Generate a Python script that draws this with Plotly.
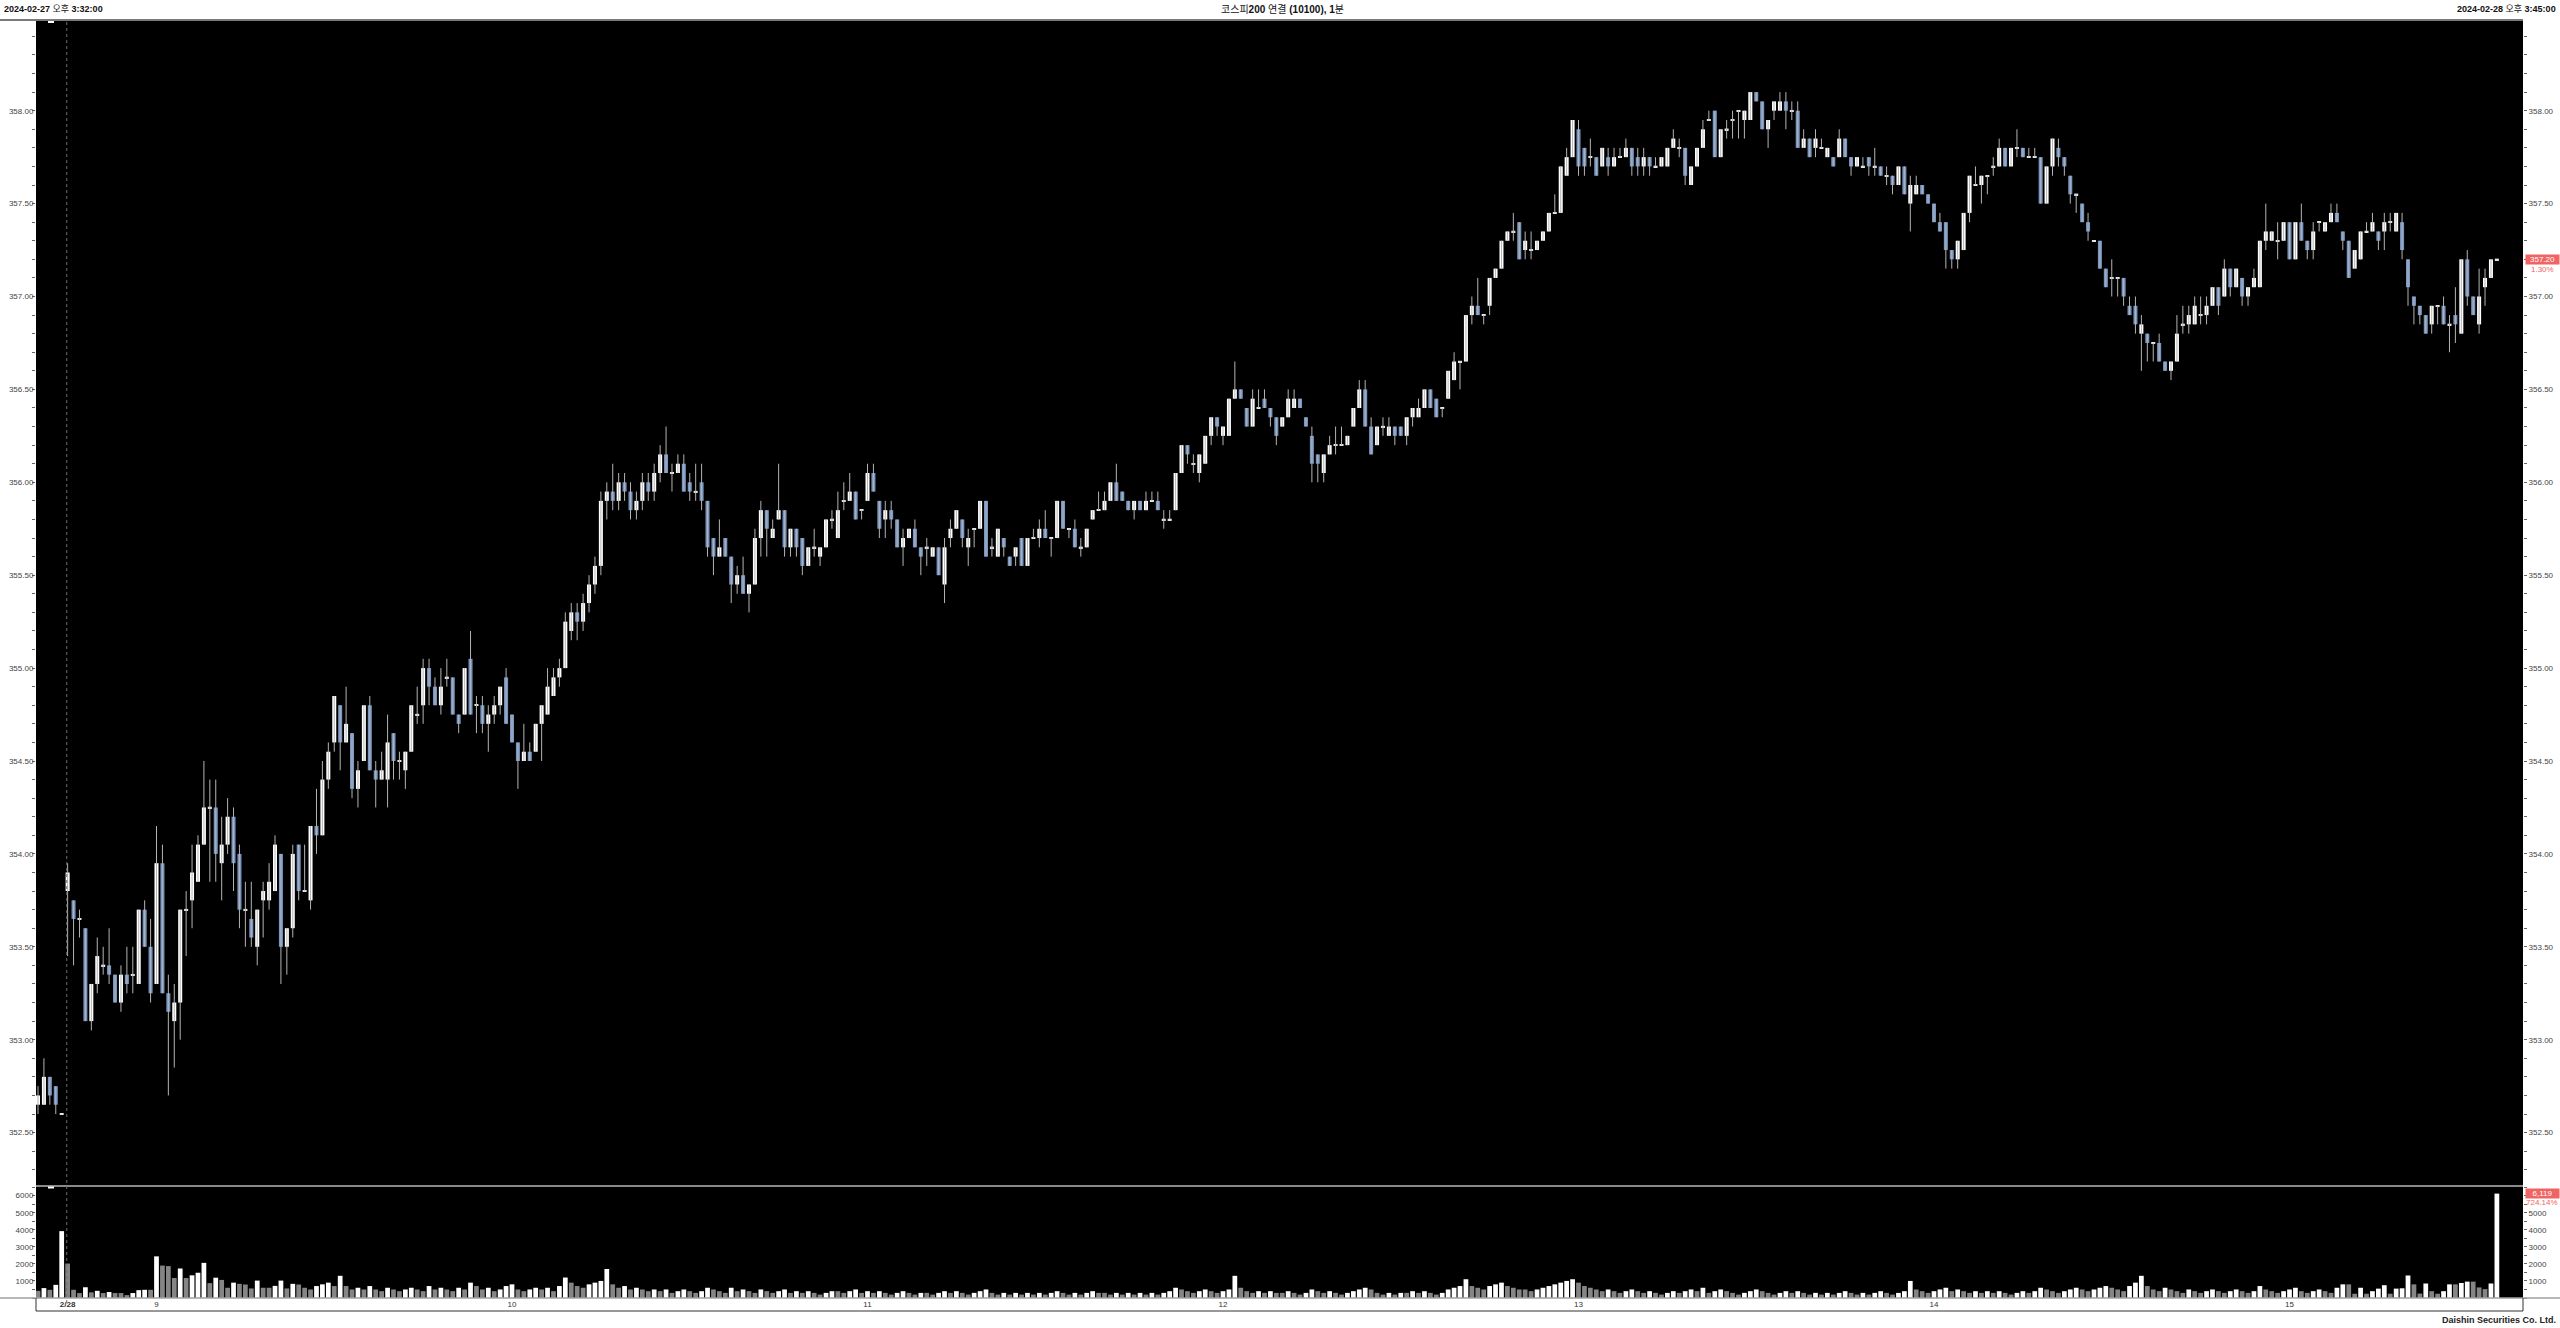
import plotly.graph_objects as go

# ---------------- data (1-minute candles, KOSPI200 continuous futures) ----------------
opens = [
    352.65, 352.65, 352.80, 352.75, 352.60, 353.80, 353.75, 353.65, 353.60, 353.10,
    353.30, 353.40, 353.40, 353.35, 353.20, 353.35, 353.35, 353.30, 353.70, 353.50,
    353.30, 353.95, 353.25, 353.10, 353.20, 353.70, 353.75, 353.85, 354.05, 354.25,
    354.25, 353.95, 354.05, 354.20, 354.00, 353.70, 353.65, 353.50, 353.75, 353.75,
    353.80, 354.00, 353.50, 353.60, 354.05, 353.80, 353.75, 354.15, 354.10, 354.40,
    354.60, 354.80, 354.60, 354.65, 354.35, 354.50, 354.80, 354.45, 354.40, 354.40,
    354.65, 354.50, 354.45, 354.55, 354.75, 354.80, 355.00, 354.90, 354.80, 354.95,
    354.95, 354.75, 354.75, 355.05, 354.80, 354.80, 354.70, 354.75, 354.80, 354.95,
    354.75, 354.60, 354.50, 354.55, 354.55, 354.70, 354.75, 354.85, 354.95, 355.00,
    355.20, 355.30, 355.25, 355.35, 355.45, 355.55, 355.90, 355.95, 355.90, 356.00,
    355.95, 355.85, 355.90, 356.00, 355.95, 356.05, 356.15, 356.05, 356.05, 356.10,
    356.00, 355.95, 356.00, 355.90, 355.70, 355.60, 355.70, 355.60, 355.45, 355.50,
    355.40, 355.45, 355.70, 355.85, 355.70, 355.80, 355.85, 355.65, 355.75, 355.70,
    355.55, 355.65, 355.60, 355.65, 355.80, 355.70, 355.90, 355.90, 355.95, 355.85,
    355.90, 356.05, 355.90, 355.80, 355.85, 355.80, 355.65, 355.70, 355.75, 355.65,
    355.65, 355.60, 355.65, 355.45, 355.70, 355.75, 355.80, 355.65, 355.75, 355.75,
    355.90, 355.65, 355.60, 355.70, 355.60, 355.60, 355.70, 355.55, 355.70, 355.70,
    355.75, 355.70, 355.70, 355.90, 355.75, 355.75, 355.65, 355.65, 355.80, 355.85,
    355.85, 355.90, 356.00, 355.95, 355.90, 355.85, 355.90, 355.85, 355.90, 355.90,
    355.80, 355.80, 355.85, 356.05, 356.20, 356.10, 356.05, 356.10, 356.25, 356.35,
    356.25, 356.25, 356.45, 356.50, 356.40, 356.30, 356.40, 356.45, 356.40, 356.35,
    356.30, 356.35, 356.40, 356.45, 356.35, 356.25, 356.15, 356.05, 356.15, 356.20,
    356.20, 356.20, 356.30, 356.40, 356.50, 356.30, 356.20, 356.30, 356.25, 356.30,
    356.30, 356.25, 356.35, 356.35, 356.40, 356.50, 356.45, 356.40, 356.45, 356.55,
    356.65, 356.65, 356.90, 356.95, 356.90, 356.95, 357.10, 357.15, 357.30, 357.35,
    357.40, 357.25, 357.25, 357.25, 357.30, 357.35, 357.45, 357.45, 357.65, 357.75,
    357.90, 357.80, 357.75, 357.75, 357.70, 357.75, 357.70, 357.75, 357.75, 357.80,
    357.75, 357.70, 357.75, 357.70, 357.70, 357.70, 357.80, 357.80, 357.80, 357.60,
    357.70, 357.80, 357.95, 358.00, 357.75, 357.90, 357.95, 358.00, 357.95, 357.95,
    358.10, 358.05, 357.90, 358.00, 358.00, 358.05, 358.00, 358.00, 357.80, 357.85,
    357.80, 357.80, 357.75, 357.75, 357.75, 357.85, 357.75, 357.70, 357.70, 357.75,
    357.70, 357.70, 357.65, 357.65, 357.60, 357.70, 357.50, 357.55, 357.60, 357.55,
    357.50, 357.40, 357.40, 357.25, 357.20, 357.25, 357.45, 357.60, 357.60, 357.65,
    357.70, 357.70, 357.80, 357.70, 357.80, 357.80, 357.75, 357.75, 357.75, 357.50,
    357.70, 357.80, 357.75, 357.65, 357.55, 357.50, 357.40, 357.30, 357.30, 357.15,
    357.10, 357.10, 357.10, 356.95, 356.95, 356.80, 356.80, 356.75, 356.75, 356.65,
    356.60, 356.65, 356.85, 356.85, 356.85, 356.90, 356.90, 356.95, 357.05, 357.00,
    357.15, 357.05, 357.10, 357.00, 357.05, 357.05, 357.30, 357.30, 357.30, 357.30,
    357.40, 357.20, 357.40, 357.30, 357.25, 357.40, 357.35, 357.40, 357.45, 357.35,
    357.30, 357.15, 357.20, 357.35, 357.35, 357.35, 357.35, 357.40, 357.35, 357.40,
    357.20, 357.00, 356.95, 356.90, 356.85, 356.95, 356.95, 356.85, 356.90, 356.80,
    357.20, 357.00, 356.85, 357.05, 357.10, 357.20,
]
highs = [
    352.75, 352.90, 352.80, 352.75, 352.60, 353.95, 353.75, 353.70, 353.60, 353.30,
    353.55, 353.50, 353.60, 353.35, 353.40, 353.50, 353.50, 353.70, 353.75, 353.65,
    354.15, 354.05, 353.35, 353.30, 353.70, 353.80, 354.05, 354.10, 354.50, 354.40,
    354.40, 354.20, 354.30, 354.25, 354.05, 353.85, 353.85, 353.70, 353.85, 353.95,
    354.10, 354.00, 353.60, 354.05, 354.05, 354.05, 354.15, 354.35, 354.50, 354.60,
    354.85, 354.80, 354.90, 354.65, 354.50, 354.80, 354.85, 354.50, 354.55, 354.75,
    354.65, 354.55, 354.55, 354.80, 354.90, 355.05, 355.05, 354.95, 355.00, 355.05,
    354.95, 354.75, 355.00, 355.20, 354.85, 354.85, 354.80, 354.85, 354.90, 355.00,
    354.75, 354.60, 354.70, 354.60, 354.70, 354.80, 355.00, 355.00, 355.05, 355.30,
    355.35, 355.35, 355.40, 355.50, 355.60, 355.95, 356.00, 356.10, 356.05, 356.05,
    356.00, 355.95, 356.05, 356.05, 356.10, 356.20, 356.30, 356.10, 356.15, 356.15,
    356.05, 356.10, 356.10, 355.90, 355.70, 355.80, 355.70, 355.60, 355.55, 355.60,
    355.45, 355.75, 355.90, 355.85, 355.80, 356.10, 355.85, 355.75, 355.75, 355.70,
    355.65, 355.75, 355.65, 355.80, 355.85, 355.95, 356.00, 356.05, 355.95, 355.85,
    356.10, 356.10, 355.90, 355.90, 355.90, 355.80, 355.75, 355.75, 355.80, 355.65,
    355.70, 355.65, 355.65, 355.70, 355.80, 355.85, 355.80, 355.75, 355.75, 355.90,
    355.90, 355.70, 355.75, 355.70, 355.60, 355.65, 355.70, 355.70, 355.75, 355.80,
    355.85, 355.70, 355.90, 355.90, 355.75, 355.80, 355.70, 355.75, 355.85, 355.95,
    355.95, 356.00, 356.10, 355.95, 355.90, 355.90, 355.90, 355.95, 355.95, 355.95,
    355.85, 355.85, 356.05, 356.20, 356.20, 356.15, 356.15, 356.25, 356.35, 356.35,
    356.30, 356.45, 356.65, 356.50, 356.40, 356.50, 356.50, 356.50, 356.40, 356.35,
    356.35, 356.50, 356.50, 356.45, 356.35, 356.30, 356.15, 356.15, 356.25, 356.30,
    356.30, 356.25, 356.40, 356.55, 356.55, 356.35, 356.30, 356.35, 356.35, 356.30,
    356.30, 356.35, 356.40, 356.45, 356.50, 356.50, 356.45, 356.40, 356.60, 356.70,
    356.65, 356.90, 357.00, 357.10, 356.90, 357.10, 357.15, 357.30, 357.35, 357.45,
    357.40, 357.35, 357.35, 357.30, 357.35, 357.45, 357.55, 357.70, 357.80, 357.95,
    357.95, 357.80, 357.85, 357.75, 357.80, 357.80, 357.80, 357.80, 357.85, 357.80,
    357.80, 357.80, 357.75, 357.75, 357.75, 357.80, 357.90, 357.85, 357.80, 357.70,
    357.80, 357.95, 358.00, 358.00, 357.90, 357.95, 358.00, 358.00, 358.00, 358.10,
    358.10, 358.05, 357.95, 358.05, 358.10, 358.10, 358.05, 358.05, 357.90, 357.85,
    357.90, 357.85, 357.80, 357.75, 357.90, 357.85, 357.75, 357.75, 357.75, 357.75,
    357.80, 357.70, 357.70, 357.65, 357.70, 357.70, 357.65, 357.65, 357.60, 357.55,
    357.50, 357.45, 357.40, 357.25, 357.30, 357.45, 357.65, 357.70, 357.65, 357.65,
    357.75, 357.85, 357.80, 357.80, 357.90, 357.80, 357.80, 357.80, 357.75, 357.70,
    357.85, 357.85, 357.75, 357.65, 357.55, 357.50, 357.45, 357.30, 357.30, 357.15,
    357.20, 357.10, 357.10, 357.00, 357.00, 356.90, 356.80, 356.75, 356.80, 356.65,
    356.65, 356.90, 356.95, 356.95, 357.00, 357.00, 357.00, 357.05, 357.05, 357.20,
    357.15, 357.15, 357.10, 357.05, 357.15, 357.30, 357.50, 357.35, 357.40, 357.40,
    357.40, 357.40, 357.50, 357.30, 357.40, 357.40, 357.40, 357.50, 357.50, 357.35,
    357.30, 357.25, 357.35, 357.40, 357.45, 357.35, 357.45, 357.45, 357.45, 357.45,
    357.20, 357.00, 356.95, 356.90, 356.95, 356.95, 357.00, 356.90, 357.05, 357.20,
    357.25, 357.00, 357.15, 357.15, 357.20, 357.20,
]
lows = [
    352.60, 352.65, 352.65, 352.60, 352.60, 353.45, 353.40, 353.55, 353.10, 353.05,
    353.25, 353.35, 353.30, 353.20, 353.15, 353.25, 353.25, 353.30, 353.50, 353.20,
    353.30, 353.25, 352.70, 352.85, 353.00, 353.45, 353.60, 353.85, 354.05, 353.85,
    353.85, 353.75, 354.00, 353.80, 353.60, 353.50, 353.50, 353.40, 353.55, 353.70,
    353.80, 353.30, 353.35, 353.55, 353.75, 353.80, 353.70, 354.00, 354.10, 354.35,
    354.55, 354.45, 354.60, 354.30, 354.25, 354.50, 354.45, 354.25, 354.40, 354.25,
    354.40, 354.40, 354.35, 354.55, 354.70, 354.70, 354.80, 354.80, 354.75, 354.90,
    354.75, 354.65, 354.75, 354.75, 354.65, 354.65, 354.55, 354.70, 354.75, 354.70,
    354.60, 354.35, 354.50, 354.50, 354.55, 354.50, 354.75, 354.85, 354.90, 355.00,
    355.15, 355.15, 355.20, 355.30, 355.40, 355.50, 355.80, 355.85, 355.85, 355.90,
    355.80, 355.80, 355.85, 355.90, 355.90, 356.00, 356.05, 355.95, 356.05, 355.95,
    355.90, 355.90, 355.85, 355.60, 355.50, 355.60, 355.60, 355.35, 355.40, 355.40,
    355.30, 355.45, 355.60, 355.60, 355.70, 355.80, 355.60, 355.60, 355.60, 355.50,
    355.55, 355.60, 355.55, 355.65, 355.75, 355.70, 355.85, 355.90, 355.80, 355.80,
    355.90, 355.95, 355.70, 355.70, 355.75, 355.65, 355.55, 355.70, 355.65, 355.50,
    355.55, 355.60, 355.50, 355.35, 355.65, 355.75, 355.65, 355.55, 355.65, 355.75,
    355.60, 355.60, 355.60, 355.60, 355.55, 355.55, 355.55, 355.55, 355.70, 355.65,
    355.70, 355.60, 355.70, 355.75, 355.70, 355.65, 355.60, 355.65, 355.80, 355.85,
    355.85, 355.90, 355.90, 355.90, 355.85, 355.80, 355.85, 355.85, 355.90, 355.85,
    355.75, 355.80, 355.85, 356.05, 356.10, 356.05, 356.00, 356.10, 356.20, 356.25,
    356.20, 356.25, 356.45, 356.45, 356.30, 356.30, 356.40, 356.40, 356.30, 356.20,
    356.30, 356.35, 356.40, 356.40, 356.30, 356.00, 356.00, 356.00, 356.15, 356.15,
    356.20, 356.20, 356.30, 356.40, 356.30, 356.15, 356.20, 356.25, 356.25, 356.20,
    356.25, 356.20, 356.30, 356.35, 356.40, 356.40, 356.35, 356.35, 356.45, 356.55,
    356.50, 356.65, 356.85, 356.90, 356.85, 356.90, 357.10, 357.15, 357.30, 357.30,
    357.20, 357.20, 357.20, 357.25, 357.30, 357.35, 357.45, 357.45, 357.65, 357.75,
    357.65, 357.65, 357.70, 357.65, 357.70, 357.65, 357.70, 357.75, 357.75, 357.65,
    357.65, 357.65, 357.65, 357.70, 357.70, 357.70, 357.80, 357.75, 357.60, 357.60,
    357.70, 357.80, 357.95, 357.75, 357.75, 357.85, 357.85, 357.85, 357.85, 357.95,
    358.05, 357.90, 357.80, 357.95, 358.00, 357.90, 357.95, 357.80, 357.80, 357.75,
    357.75, 357.80, 357.75, 357.70, 357.75, 357.75, 357.65, 357.70, 357.70, 357.65,
    357.65, 357.65, 357.60, 357.55, 357.60, 357.55, 357.35, 357.55, 357.55, 357.50,
    357.40, 357.35, 357.15, 357.15, 357.15, 357.25, 357.40, 357.60, 357.50, 357.55,
    357.65, 357.70, 357.70, 357.70, 357.75, 357.75, 357.75, 357.75, 357.50, 357.50,
    357.65, 357.70, 357.65, 357.50, 357.45, 357.40, 357.30, 357.30, 357.15, 357.05,
    357.00, 357.00, 356.95, 356.90, 356.80, 356.60, 356.65, 356.65, 356.65, 356.60,
    356.55, 356.65, 356.80, 356.80, 356.85, 356.85, 356.85, 356.95, 356.90, 357.00,
    357.00, 357.05, 356.95, 356.95, 357.05, 357.05, 357.25, 357.30, 357.20, 357.30,
    357.20, 357.20, 357.30, 357.20, 357.20, 357.35, 357.35, 357.40, 357.40, 357.25,
    357.10, 357.15, 357.20, 357.35, 357.35, 357.25, 357.25, 357.35, 357.35, 357.20,
    356.95, 356.85, 356.85, 356.80, 356.80, 356.85, 356.85, 356.70, 356.75, 356.80,
    356.95, 356.90, 356.80, 356.95, 357.10, 357.20,
]
closes = [
    352.70, 352.80, 352.70, 352.65, 352.60, 353.90, 353.65, 353.65, 353.10, 353.30,
    353.45, 353.40, 353.35, 353.20, 353.35, 353.30, 353.35, 353.70, 353.50, 353.25,
    353.95, 353.25, 353.15, 353.20, 353.70, 353.70, 353.90, 354.05, 354.25, 354.25,
    354.00, 354.05, 354.20, 353.95, 353.70, 353.70, 353.55, 353.70, 353.80, 353.85,
    354.05, 353.50, 353.60, 354.00, 353.80, 353.80, 354.15, 354.10, 354.40, 354.55,
    354.85, 354.60, 354.70, 354.35, 354.45, 354.80, 354.45, 354.40, 354.45, 354.60,
    354.50, 354.50, 354.55, 354.80, 354.75, 355.00, 354.90, 354.80, 354.90, 354.95,
    354.75, 354.70, 355.00, 354.75, 354.80, 354.70, 354.75, 354.80, 354.90, 354.70,
    354.60, 354.50, 354.55, 354.50, 354.70, 354.80, 354.90, 354.95, 355.00, 355.25,
    355.30, 355.25, 355.35, 355.45, 355.55, 355.90, 355.95, 355.90, 356.00, 355.95,
    355.85, 355.90, 356.00, 355.95, 356.05, 356.15, 356.05, 356.05, 356.10, 355.95,
    355.95, 355.95, 355.90, 355.65, 355.60, 355.65, 355.60, 355.45, 355.50, 355.40,
    355.45, 355.70, 355.85, 355.75, 355.75, 355.85, 355.65, 355.75, 355.65, 355.55,
    355.65, 355.65, 355.65, 355.80, 355.80, 355.85, 355.90, 355.95, 355.80, 355.85,
    356.05, 355.95, 355.75, 355.85, 355.80, 355.65, 355.70, 355.75, 355.65, 355.60,
    355.65, 355.65, 355.50, 355.65, 355.75, 355.85, 355.70, 355.70, 355.75, 355.90,
    355.60, 355.65, 355.75, 355.65, 355.55, 355.65, 355.55, 355.70, 355.70, 355.75,
    355.70, 355.70, 355.90, 355.75, 355.75, 355.65, 355.65, 355.75, 355.85, 355.85,
    355.90, 356.00, 355.90, 355.90, 355.85, 355.90, 355.85, 355.90, 355.90, 355.85,
    355.80, 355.80, 356.05, 356.20, 356.15, 356.10, 356.15, 356.25, 356.35, 356.30,
    356.30, 356.45, 356.50, 356.45, 356.30, 356.45, 356.40, 356.40, 356.35, 356.25,
    356.35, 356.45, 356.45, 356.40, 356.30, 356.10, 356.10, 356.15, 356.20, 356.20,
    356.20, 356.25, 356.40, 356.50, 356.30, 356.15, 356.30, 356.30, 356.30, 356.25,
    356.25, 356.35, 356.40, 356.40, 356.50, 356.40, 356.35, 356.40, 356.60, 356.65,
    356.65, 356.90, 356.95, 356.90, 356.90, 357.10, 357.15, 357.30, 357.35, 357.35,
    357.20, 357.30, 357.25, 357.30, 357.35, 357.45, 357.45, 357.70, 357.75, 357.95,
    357.70, 357.70, 357.75, 357.65, 357.80, 357.70, 357.75, 357.75, 357.80, 357.70,
    357.70, 357.75, 357.70, 357.70, 357.75, 357.80, 357.85, 357.80, 357.65, 357.70,
    357.80, 357.90, 357.95, 357.75, 357.90, 357.90, 357.95, 358.00, 358.00, 358.10,
    358.05, 357.90, 357.95, 358.05, 358.05, 358.00, 358.00, 357.80, 357.85, 357.75,
    357.85, 357.80, 357.80, 357.70, 357.85, 357.75, 357.70, 357.75, 357.70, 357.70,
    357.70, 357.65, 357.65, 357.60, 357.70, 357.55, 357.60, 357.60, 357.55, 357.50,
    357.40, 357.35, 357.25, 357.20, 357.30, 357.45, 357.65, 357.60, 357.65, 357.65,
    357.70, 357.80, 357.70, 357.80, 357.80, 357.75, 357.75, 357.75, 357.50, 357.70,
    357.85, 357.75, 357.70, 357.55, 357.55, 357.40, 357.35, 357.30, 357.15, 357.05,
    357.10, 357.10, 357.00, 356.90, 356.85, 356.85, 356.75, 356.75, 356.65, 356.60,
    356.65, 356.80, 356.85, 356.90, 356.95, 356.90, 356.95, 357.05, 356.95, 357.15,
    357.05, 357.15, 357.00, 357.05, 357.10, 357.30, 357.35, 357.35, 357.30, 357.40,
    357.20, 357.40, 357.30, 357.25, 357.35, 357.40, 357.40, 357.45, 357.40, 357.30,
    357.10, 357.25, 357.35, 357.35, 357.40, 357.30, 357.40, 357.40, 357.45, 357.25,
    357.05, 356.95, 356.90, 356.80, 356.95, 356.95, 356.85, 356.85, 356.85, 357.20,
    357.00, 356.90, 357.00, 357.10, 357.20, 357.20,
]
volumes = [
    420, 580, 480, 770, 3920, 2020, 480, 290, 630, 330,
    420, 290, 350, 290, 290, 170, 290, 460, 480, 480,
    2440, 1900, 1870, 1170, 1730, 1170, 1330, 1480, 2060, 870,
    1190, 1060, 600, 900, 830, 790, 560, 1020, 600, 600,
    710, 1020, 560, 830, 790, 600, 500, 700, 800, 900,
    700, 1300, 700, 500, 600, 500, 700, 500, 400, 600,
    500, 400, 500, 600, 500, 400, 700, 500, 600, 500,
    400, 600, 500, 900, 700, 500, 600, 400, 500, 700,
    800, 500, 400, 500, 600, 500, 600, 400, 700, 1200,
    900, 700, 600, 800, 900, 1000, 1700, 800, 600, 700,
    500, 600, 500, 400, 500, 400, 500, 300, 400, 500,
    400, 300, 400, 600, 500, 400, 300, 600, 400, 500,
    400, 300, 500, 400, 300, 400, 500, 300, 400, 300,
    400, 300, 200, 300, 400, 400, 300, 400, 500, 300,
    400, 300, 400, 300, 200, 300, 400, 300, 200, 300,
    300, 200, 300, 400, 300, 400, 300, 200, 300, 400,
    500, 300, 200, 300, 200, 300, 200, 300, 200, 300,
    200, 300, 400, 300, 200, 300, 200, 300, 400, 300,
    300, 200, 300, 200, 300, 200, 300, 200, 300, 200,
    300, 400, 600, 500, 400, 300, 400, 500, 400, 300,
    400, 500, 1300, 600, 400, 300, 400, 300, 400, 300,
    300, 400, 300, 200, 300, 500, 400, 300, 400, 300,
    200, 300, 400, 500, 600, 500, 300, 200, 300, 200,
    300, 300, 400, 300, 400, 300, 200, 300, 500, 600,
    700, 1100, 700, 600, 500, 700, 800, 900, 700, 600,
    500, 500, 400, 500, 600, 700, 800, 900, 1000, 1100,
    900, 700, 600, 500, 400, 500, 400, 300, 400, 500,
    400, 300, 400, 300, 200, 300, 400, 300, 400, 500,
    400, 600, 300, 400, 500, 400, 300, 200, 300, 400,
    500, 400, 300, 200, 300, 400, 300, 400, 300, 200,
    300, 200, 300, 200, 300, 400, 300, 200, 300, 200,
    300, 400, 300, 200, 300, 400, 1000, 500, 400, 300,
    400, 500, 600, 400, 500, 400, 300, 400, 300, 400,
    300, 400, 300, 200, 300, 400, 300, 400, 600, 500,
    400, 300, 400, 500, 600, 500, 400, 500, 600, 700,
    600, 500, 400, 700, 900, 1300, 700, 500, 400, 600,
    500, 400, 300, 500, 400, 300, 400, 500, 400, 300,
    400, 500, 400, 300, 400, 700, 500, 400, 300, 400,
    500, 600, 400, 300, 400, 500, 400, 300, 600, 800,
    800, 250, 600, 250, 400, 550, 750, 250, 550, 570,
    1320, 800, 260, 850, 400, 250, 400, 800, 800, 880,
    960, 960, 620, 520, 850, 6119,
]
hour_tick_index = [5, 20, 80, 140, 200, 260, 320, 380]
hour_tick_text = ["<b>2/28</b>", "9", "10", "11", "12", "13", "14", "15"]
day_break_index = 4.85
last_price_text = "357.20"
last_change_text = "1.30%"
last_volume_text = "6,119"
last_volume_change_text = "724.14%"

# ---------------- styling ----------------
UP = "#ffffff"
DOWN = "#7896c3"
DOJI = "#e6e6e6"
WICK = "#b4b4b4"
VOL_UP = "#ffffff"
VOL_DN = "#858585"
LABEL = "#444444"
RED = "#f06464"
FONT = "Liberation Sans, Arial, Noto Sans CJK KR, sans-serif"

n = len(closes)
idx = list(range(n))

body_base, body_h, body_col = [], [], []
for o, c in zip(opens, closes):
    lo, hi = min(o, c), max(o, c)
    if hi - lo < 1e-9:
        body_base.append(lo - 0.004)
        body_h.append(0.008)
        body_col.append(DOJI)
    else:
        body_base.append(lo)
        body_h.append(hi - lo)
        body_col.append(UP if c > o else DOWN)

wx, wy = [], []
for i, (h, l) in enumerate(zip(highs, lows)):
    wx += [i, i, None]
    wy += [l, h, None]

vol_col = []
prev = None
for v in volumes:
    vol_col.append(VOL_UP if (prev is not None and v > prev) else VOL_DN)
    prev = v

# geometry (pixels)
W, H = 2560, 1328
ML, MR, MT, MB = 36, 37, 21, 30
PW = W - ML - MR
PH = H - MT - MB
SPLIT_Y = 1186
VD = (H - MB - SPLIT_Y) / PH
PX_PER_BAR = 5.925
X0 = -2.0 / PX_PER_BAR
X1 = X0 + PW / PX_PER_BAR
PX_PER_PRICE = 185.8
P_AT = 358.0
P_AT_Y = 110.7
PMAX = P_AT + (P_AT_Y - MT) / PX_PER_PRICE
PMIN = P_AT - (SPLIT_Y - P_AT_Y) / PX_PER_PRICE
VMAX = (H - MB - SPLIT_Y) / 17.06 * 1000


def px_x(px):
    return (px - ML) / PW


def px_y(py):
    return (H - MB - py) / PH


fig = go.Figure()
fig.add_trace(go.Scatter(x=wx, y=wy, mode="lines", line=dict(color=WICK, width=1),
                         xaxis="x", yaxis="y", hoverinfo="skip", showlegend=False))
fig.add_trace(go.Bar(x=idx, y=body_h, base=body_base, width=0.68,
                     marker=dict(color=body_col, line=dict(width=0)),
                     xaxis="x", yaxis="y", showlegend=False))
fig.add_trace(go.Bar(x=idx, y=volumes, width=0.8,
                     marker=dict(color=vol_col, line=dict(width=0)),
                     xaxis="x2", yaxis="y2", showlegend=False))
fig.add_trace(go.Scatter(x=[None], y=[None], xaxis="x", yaxis="y3", showlegend=False))
fig.add_trace(go.Scatter(x=[None], y=[None], xaxis="x2", yaxis="y4", showlegend=False))

tickfont = dict(family=FONT, size=8, color=LABEL)
price_axis = dict(range=[PMIN, PMAX], tickmode="linear", tick0=352.5, dtick=0.5,
                  tickformat=".2f", ticks="outside", ticklen=3, tickcolor="#666",
                  tickfont=tickfont, showgrid=False, zeroline=False, showline=False,
                  automargin=False,
                  minor=dict(tick0=352.5, dtick=0.1, ticks="outside", ticklen=3,
                             tickcolor="#666", showgrid=False))
vol_axis = dict(range=[0, VMAX], tickmode="array", ticks="outside", ticklen=3,
                tickcolor="#666", tickfont=tickfont, showgrid=False, zeroline=False,
                showline=False, tickformat="d", automargin=False,
                minor=dict(tick0=0, dtick=500, ticks="outside", ticklen=3,
                           tickcolor="#666", showgrid=False))

fig.update_layout(
    width=W, height=H, autosize=False,
    margin=dict(l=ML, r=MR, t=MT, b=MB, pad=0, autoexpand=False),
    paper_bgcolor="#ffffff", plot_bgcolor="#000000",
    barmode="overlay", showlegend=False, hovermode=False,
    xaxis=dict(domain=[0, 1], range=[X0, X1], anchor="y", showticklabels=False,
               ticks="", showgrid=False, zeroline=False, showline=False, automargin=False),
    xaxis2=dict(domain=[0, 1], range=[X0, X1], anchor="y2", tickmode="array",
                tickvals=hour_tick_index, ticktext=hour_tick_text, ticks="",
                tickfont=dict(family=FONT, size=8, color="#333"), automargin=False,
                showgrid=False, zeroline=False, showline=False),
    yaxis=dict(domain=[VD, 1], anchor="x", side="left", ticklabelstandoff=-3, **price_axis),
    yaxis3=dict(overlaying="y", anchor="x", side="right", **price_axis),
    yaxis2=dict(domain=[0, VD], anchor="x2", side="left", ticklabelstandoff=-3,
                tickvals=[1000, 2000, 3000, 4000, 5000, 6000], **vol_axis),
    yaxis4=dict(overlaying="y2", anchor="x2", side="right",
                tickvals=[1000, 2000, 3000, 4000, 5000], **vol_axis),
)

shapes = [
    dict(type="line", xref="paper", yref="paper", x0=px_x(0), x1=1, y0=px_y(20), y1=px_y(20),
         line=dict(color="#7a7a7a", width=2)),
    dict(type="line", xref="paper", yref="paper", x0=0, x1=1, y0=VD, y1=VD,
         line=dict(color="#b8b8b8", width=1.5)),
    dict(type="line", xref="paper", yref="paper", x0=px_x(0), x1=px_x(W), y0=0, y1=0,
         line=dict(color="#a0a0a0", width=1.5)),
    dict(type="line", xref="paper", yref="paper", x0=0, x1=1, y0=px_y(1311), y1=px_y(1311),
         line=dict(color="#333", width=1)),
    dict(type="line", xref="paper", yref="paper", x0=0, x1=0, y0=0, y1=px_y(1311),
         line=dict(color="#333", width=1)),
    dict(type="line", xref="paper", yref="paper", x0=1, x1=1, y0=0, y1=px_y(1311),
         line=dict(color="#333", width=1)),
    dict(type="line", xref="x", yref="paper", x0=day_break_index, x1=day_break_index,
         y0=px_y(1303), y1=1, line=dict(color="#6e6e6e", width=1, dash="dot")),
    dict(type="rect", xref="paper", yref="paper", x0=px_x(48), x1=px_x(54),
         y0=px_y(23), y1=px_y(21), fillcolor="#ffffff", line=dict(width=0)),
    dict(type="rect", xref="paper", yref="paper", x0=px_x(48), x1=px_x(54),
         y0=px_y(1188.5), y1=px_y(1186.5), fillcolor="#ffffff", line=dict(width=0)),
]
fig.update_layout(shapes=shapes)

ann = [
    dict(text="<b>2024-02-27</b> 오후 <b>3:32:00</b>", xref="paper", yref="paper",
         x=px_x(2), y=px_y(9), xanchor="left", yanchor="middle", showarrow=False,
         font=dict(family=FONT, size=9, color="#111")),
    dict(text="코스피<b>200</b> 연결 <b>(10100), 1</b>분", xref="paper", yref="paper",
         x=px_x(1282), y=px_y(9), xanchor="center", yanchor="middle", showarrow=False,
         font=dict(family=FONT, size=10, color="#111")),
    dict(text="<b>2024-02-28</b> 오후 <b>3:45:00</b>", xref="paper", yref="paper",
         x=px_x(2558), y=px_y(9), xanchor="right", yanchor="middle", showarrow=False,
         font=dict(family=FONT, size=9, color="#111")),
    dict(text="<b>Daishin Securities Co. Ltd.</b>", xref="paper", yref="paper",
         x=px_x(2558), y=px_y(1320), xanchor="right", yanchor="middle", showarrow=False,
         font=dict(family=FONT, size=9, color="#222")),
    dict(text=last_price_text, xref="paper", yref="y", x=px_x(2525), y=closes[-1],
         xanchor="left", yanchor="middle", showarrow=False, bgcolor=RED, width=33,
         borderpad=0, font=dict(family=FONT, size=8, color="#ffffff")),
    dict(text=last_change_text, xref="paper", yref="y", x=px_x(2542), y=357.143,
         xanchor="center", yanchor="middle", showarrow=False,
         font=dict(family=FONT, size=8, color=RED)),
    dict(text=last_volume_text, xref="paper", yref="y2", x=px_x(2525), y=volumes[-1],
         xanchor="left", yanchor="middle", showarrow=False, bgcolor=RED, width=33,
         borderpad=0, font=dict(family=FONT, size=8, color="#ffffff")),
    dict(text=last_volume_change_text, xref="paper", yref="y2", x=px_x(2542), y=5570,
         xanchor="center", yanchor="middle", showarrow=False,
         font=dict(family=FONT, size=8, color=RED)),
]
fig.update_layout(annotations=ann)

page_fix = (
    "var gd=document.getElementById('{plot_id}');"
    "document.documentElement.style.margin='0';"
    "document.documentElement.style.padding='0';"
    "document.documentElement.style.overflow='hidden';"
    "document.body.style.margin='0';"
    "document.body.style.padding='0';"
    "document.body.style.overflow='hidden';"
    "if(gd){gd.style.position='fixed';gd.style.left='0px';gd.style.top='0px';}"
)
fig.write_html("out.html", post_script=page_fix,
               config={"displayModeBar": False, "responsive": False})
